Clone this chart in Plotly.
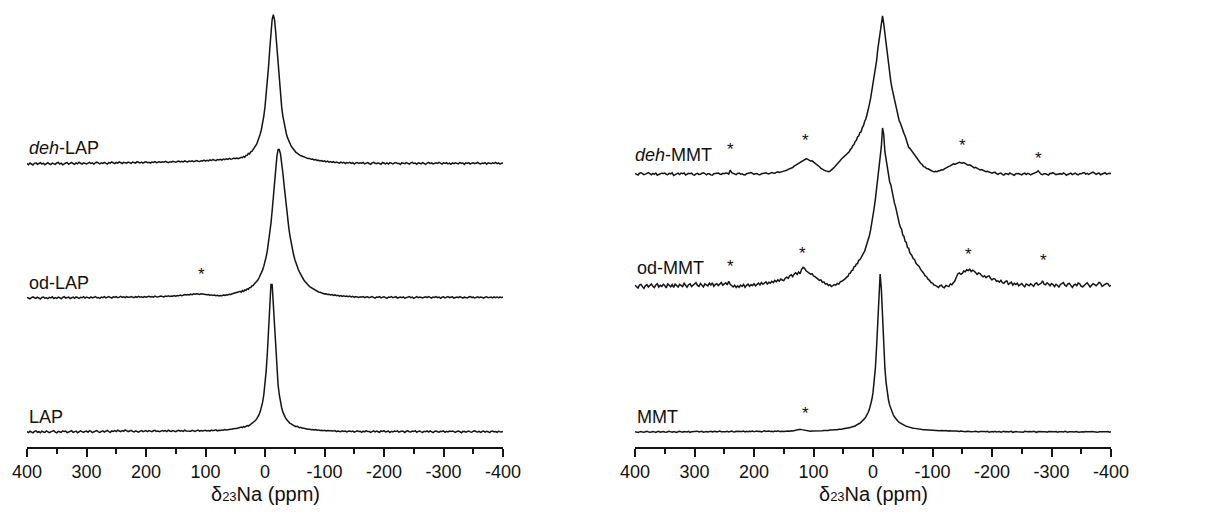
import plotly.graph_objects as go

# Chemical-shift sampling (ppm): 2.5 ppm steps in the wings, 2 ppm across the central line
PPM_LEFT = [400 - 2.5 * i for i in range(143)]      # 400 ... 45
PPM_CORE = list(range(42, -63, -2))                 # 42 ... -62
PPM_RIGHT = [-65 - 2.5 * i for i in range(135)]     # -65 ... -400
PPM = PPM_LEFT + PPM_CORE + PPM_RIGHT

# ---------------- Laponite series (intensity, main line = 100) ----------------
LAP_LEFT = [
    0.3, -0.4, 0.5, 0.1, -0.6, 0.4, 0.8, -0.2, 0.2, -0.5,
    0.6, 0.0, -0.3, 0.7, 0.3, -0.5, 0.1, 0.5, 0.9, -0.1,
    -0.6, 0.4, 0.2, -0.2, 0.8, 0.3, 0.6, -0.4, 0.0, 0.5,
    0.9, -0.3, 0.1, 0.6, -0.5, 0.3, 0.7, 0.2, -0.3, 0.4,
    0.6, -0.2, 0.9, 0.4, -0.4, 0.2, 0.5, 1.0, 0.1, -0.3,
    0.4, 0.8, 0.0, 0.6, 1.1, 0.3, -0.2, 0.7, 0.4, 0.9,
    0.3, 1.2, 0.6, 0.2, 1.0, 0.5, 1.4, 0.8, 0.3, 0.7,
    1.1, 0.4, 0.0, 0.8, 0.5, -0.1, 0.6, 0.9, 0.2, 0.5,
    0.9, 0.3, 1.0, 0.6, 0.2, 0.8, 1.1, 0.4, 0.7, 0.2,
    0.6, 1.0, 0.5, 0.9, 0.3, 1.2, 0.7, 0.4, 0.9, 0.6,
    0.2, 0.8, 1.1, 0.5, 0.9, 0.4, 1.2, 0.7, 0.6, 1.0,
    0.5, 1.1, 0.8, 0.4, 0.9, 1.3, 0.6, 1.0, 0.7, 0.9,
    1.2, 0.7, 1.0, 0.6, 1.3, 0.9, 1.1, 1.5, 0.8, 1.2,
    1.0, 1.4, 1.2, 1.6, 1.3, 1.5, 1.9, 1.6, 2.0, 2.1,
    2.4, 2.3, 2.7]
LAP_CORE = [
    2.8, 3.3, 2.9, 3.6, 3.2, 3.9, 4.3, 4.0, 4.6, 5.1, 5.4, 6.0, 6.8, 7.7, 8.8,
    10.1, 11.6, 13.7, 16.4, 20.0, 25.0, 31.7, 41.0, 53.4, 69.2, 86.2, 99.0,
    99.0, 86.2, 69.2, 53.4, 41.0, 31.7, 25.0, 20.0, 16.3, 13.5, 11.3, 9.8,
    8.6, 7.4, 6.7, 5.8, 5.4, 4.7, 4.5, 4.0, 3.6, 3.8, 3.2, 2.9, 3.1, 2.6]
LAP_RIGHT = [
    2.5, 2.1, 2.2, 1.8, 1.9, 1.5, 1.7, 1.3, 1.6, 1.2,
    1.4, 1.0, 1.2, 0.8, 1.1, 0.7, 1.0, 0.9, 0.5, 0.8,
    0.6, 0.9, 0.3, 0.7, 0.5, 0.2, 0.8, 0.4, 0.6, 0.0,
    0.5, 0.7, 0.2, 0.6, -0.1, 0.4, 0.8, 0.3, 0.5, -0.2,
    0.6, 0.1, 0.9, 0.3, 0.4, -0.3, 0.5, 0.7, 0.1, 0.6,
    0.2, -0.2, 0.7, 0.4, 0.9, 0.0, 0.3, 0.6, -0.4, 0.5,
    0.1, 0.6, 0.3, 0.8, -0.1, 0.2, 0.7, 0.4, -0.3, 0.5,
    0.8, 0.2, 0.0, 0.6, 0.3, 0.9, -0.2, 0.4, 0.6, 0.1,
    -0.3, 0.5, 0.2, 0.7, 0.0, 0.8, 0.3, -0.4, 0.4, 0.6,
    0.2, -0.1, 0.5, 0.3, 0.7, -0.2, 0.4, 0.1, 0.6, 0.3,
    0.7, 0.0, -0.3, 0.4, 0.6, 0.2, -0.5, 0.3, 0.5, -0.1,
    0.4, 0.6, 0.1, -0.2, 0.5, 0.8, 0.2, 0.0, 0.4, -0.3,
    0.3, 0.6, -0.1, 0.5, 0.2, -0.4, 0.4, 0.7, 0.1, 0.3,
    -0.2, 0.5, 0.2, 0.0, 0.4]

OD_LAP_LEFT = [
    0.4, -0.3, -0.6, 0.2, 0.7, 0.1, -0.3, 0.5, -0.1, -0.7,
    0.3, 0.6, -0.2, 0.1, -0.5, 0.4, 0.0, 0.7, -0.4, 0.2,
    -0.3, 0.5, 0.1, -0.6, 0.3, 0.8, -0.1, 0.2, 0.6, -0.4,
    0.0, 0.5, -0.2, 0.7, 0.3, -0.3, 0.4, 0.1, 0.8, -0.1,
    0.5, 0.2, -0.2, 0.6, 0.0, 0.4, 0.9, 0.1, 0.3, -0.3,
    0.6, 0.2, 0.8, 0.0, 0.5, 0.9, 0.3, -0.1, 0.7, 0.4,
    0.8, 0.1, 0.5, 1.0, 0.3, 0.7, 0.2, 0.9, 0.5, 0.4,
    0.9, 0.6, 0.2, 0.8, 0.4, 1.0, 0.5, 0.7, 0.3, 0.9,
    0.5, 0.8, 1.1, 0.6, 0.9, 0.5, 1.2, 0.8, 0.6, 1.0,
    1.3, 0.9, 0.7, 1.2, 1.0, 1.4, 0.9, 1.3, 1.1, 1.5,
    1.2, 1.6, 1.4, 1.9, 1.5, 1.8, 2.2, 1.9, 2.3, 2.0,
    2.5, 2.2, 2.7, 2.4, 2.8, 2.6, 2.3, 2.7, 2.5, 2.1,
    2.4, 2.1, 2.3, 1.8, 2.0, 1.6, 1.9, 1.5, 1.7, 1.3,
    1.6, 1.4, 1.9, 1.7, 2.1, 2.0, 2.5, 2.3, 2.8, 3.0,
    3.3, 3.6, 3.9]
OD_LAP_CORE = [
    4.4, 3.8, 4.9, 4.3, 5.3, 5.0, 6.1, 5.8, 6.9, 7.0, 8.0, 8.3, 9.3, 10.0, 11.2,
    12.0, 13.5, 15.0, 16.7, 18.8, 21.3, 24.2, 27.7, 31.9, 36.9, 42.9, 50.0,
    58.3, 67.6, 77.5, 87.1, 95.0, 99.6, 99.6, 96.6, 91.1, 84.0, 76.0, 67.9,
    60.2, 53.2, 47.0, 41.5, 36.7, 32.6, 29.1, 26.0, 23.3, 21.1, 19.0, 17.3,
    15.7, 14.4]
OD_LAP_RIGHT = [
    12.2, 10.9, 9.5, 8.7, 7.6, 7.0, 6.0, 5.6, 4.9, 4.6,
    4.0, 3.8, 3.3, 3.2, 2.7, 2.8, 2.3, 2.5, 2.0, 2.3,
    1.7, 2.0, 1.5, 1.8, 1.2, 1.6, 1.0, 1.4, 0.9, 1.3,
    0.8, 1.2, 0.6, 1.0, 0.4, 0.9, 0.7, 0.3, 0.8, 0.5,
    0.9, 0.2, 0.6, 0.8, 0.1, 0.5, 0.9, 0.3, -0.2, 0.6,
    0.4, 0.8, 0.0, 0.5, 0.7, 0.2, -0.3, 0.6, 0.4, 0.9,
    0.1, 0.5, 0.8, -0.1, 0.4, 0.6, 0.2, 0.7, -0.2, 0.3,
    0.6, 0.9, 0.2, 0.5, -0.3, 0.4, 0.8, 0.1, 0.6, 0.3,
    -0.1, 0.5, 0.7, 0.2, 0.9, 0.4, -0.2, 0.6, 0.3, 0.8,
    0.2, 0.6, -0.3, 0.4, 0.7, 0.0, 0.5, 0.9, 0.2, 0.4,
    0.7, -0.1, 0.3, 0.6, 0.2, 0.8, 0.4, -0.2, 0.5, 0.3,
    0.0, 0.6, 0.9, 0.3, 0.5, -0.1, 0.4, 0.7, 0.2, 0.6,
    0.3, -0.2, 0.5, 0.8, 0.1, 0.4, 0.6, 0.0, 0.7, 0.2,
    0.5, 0.1, 0.6, 0.3, 0.4]

DEH_LAP_LEFT = [
    0.2, -0.6, 0.5, -0.1, -0.8, 0.3, 0.6, -0.3, 0.1, 0.7,
    -0.2, 0.4, -0.6, 0.3, 0.8, -0.1, -0.5, 0.5, 0.2, -0.4,
    0.6, 0.9, -0.2, 0.4, -0.7, 0.1, 0.5, 0.8, -0.3, 0.3,
    0.9, 0.2, -0.4, 0.6, 0.0, 1.0, 0.4, -0.2, 0.7, 0.3,
    -0.1, 0.5, 0.9, 0.2, 0.6, -0.3, 0.8, 1.1, 0.4, 0.0,
    0.7, 0.3, 1.0, 0.5, -0.2, 0.8, 0.4, 1.2, 0.6, 0.1,
    0.9, 0.5, 1.3, 0.7, 0.2, 1.0, 0.6, 0.4, 1.1, 0.8,
    0.3, 1.2, 0.8, 0.5, 1.4, 0.9, 0.6, 1.1, 0.4, 1.0,
    1.3, 0.7, 1.0, 0.5, 1.2, 0.9, 1.5, 0.8, 1.1, 1.4,
    0.9, 1.3, 1.0, 1.6, 1.2, 0.8, 1.4, 1.1, 1.7, 1.3,
    1.0, 1.5, 1.8, 1.2, 1.6, 1.3, 1.9, 1.5, 1.2, 1.8,
    1.6, 2.0, 1.4, 1.8, 2.2, 1.7, 1.5, 2.1, 1.9, 2.4,
    1.8, 2.3, 2.0, 2.6, 2.2, 2.8, 2.4, 2.1, 2.9, 2.6,
    3.0, 2.5, 3.2, 2.8, 3.4, 2.9, 3.6, 3.1, 3.3, 3.8,
    3.4, 3.9, 3.5]
DEH_LAP_CORE = [
    3.9, 4.4, 4.1, 4.9, 4.4, 5.6, 5.7, 6.9, 6.6, 8.0, 8.3, 9.8, 10.4, 12.0,
    13.2, 15.4, 17.3, 20.0, 23.2, 27.2, 32.0, 38.2, 45.7, 54.8, 65.4, 77.0,
    88.3, 96.8, 100.0, 96.8, 88.3, 77.0, 65.4, 54.8, 45.7, 38.2, 32.0, 27.2,
    23.2, 20.0, 17.4, 15.2, 13.6, 11.8, 10.8, 9.5, 8.7, 7.7, 7.2, 6.4, 6.1,
    5.4, 5.2]
DEH_LAP_RIGHT = [
    4.7, 4.1, 4.0, 3.5, 3.6, 3.0, 3.2, 2.6, 2.8, 2.3,
    2.4, 1.9, 2.2, 1.6, 2.0, 1.3, 1.8, 1.1, 1.5, 1.0,
    1.4, 0.7, 1.2, 0.9, 0.4, 1.1, 0.6, 1.0, 0.2, 0.8,
    0.5, 1.0, 0.3, 0.8, -0.2, 0.6, 0.9, 0.2, 0.7, 0.4,
    0.9, -0.1, 0.5, 0.8, 0.2, -0.4, 0.6, 1.0, 0.3, 0.1,
    0.7, 0.4, -0.3, 0.9, 0.5, 0.0, 0.6, -0.2, 0.8, 0.3,
    -0.1, 0.6, 0.9, 0.2, 0.4, -0.5, 0.7, 0.3, 0.1, 0.8,
    0.4, -0.2, 0.6, 1.0, 0.2, 0.5, -0.3, 0.7, 0.4, 0.0,
    0.8, 0.3, -0.4, 0.5, 0.9, 0.1, 0.6, -0.1, 0.3, 0.7,
    0.2, 0.9, 0.4, -0.2, 0.6, 0.3, 0.8, 0.0, 0.5, -0.3,
    0.6, 0.1, 0.7, 0.4, -0.1, 0.9, 0.3, 0.5, -0.4, 0.6,
    0.3, 0.8, -0.2, 0.4, 0.7, 0.1, 0.5, 0.9, 0.2, -0.1,
    0.5, 0.2, 0.8, -0.3, 0.6, 0.4, 0.0, 0.7, 0.3, 0.9,
    0.1, 0.6, -0.2, 0.4, 0.5]

# ---------------- Montmorillonite series ----------------
MMT_LEFT = [
    0.2, -0.1, -0.3, 0.1, 0.3, 0.0, -0.2, 0.2, 0.4, 0.1,
    -0.2, 0.0, 0.3, 0.1, -0.3, 0.2, 0.4, -0.1, 0.1, 0.3,
    0.0, -0.2, 0.2, 0.4, 0.1, -0.1, 0.3, 0.0, -0.3, 0.2,
    0.4, 0.1, -0.1, 0.3, 0.2, 0.0, 0.4, -0.2, 0.1, 0.3,
    0.1, 0.3, 0.5, 0.0, 0.2, 0.4, -0.1, 0.2, 0.3, 0.0,
    0.3, 0.5, 0.1, 0.2, 0.4, 0.0, 0.3, 0.6, 0.2, 0.1,
    0.4, 0.2, 0.5, 0.1, 0.3, 0.6, 0.2, 0.0, 0.4, 0.3,
    0.5, 0.2, 0.3, 0.6, 0.1, 0.4, 0.2, 0.5, 0.3, 0.6,
    0.2, 0.4, 0.6, 0.3, 0.5, 0.1, 0.4, 0.7, 0.3, 0.5,
    0.6, 0.3, 0.5, 0.2, 0.6, 0.4, 0.7, 0.3, 0.5, 0.4,
    0.3, 0.6, 0.4, 0.7, 0.5, 0.8, 0.6, 0.9, 1.1, 1.2,
    1.4, 1.7, 1.5, 1.3, 1.0, 0.8, 0.6, 0.7, 0.5, 0.6,
    0.6, 0.8, 0.5, 0.7, 0.9, 0.6, 0.8, 1.0, 0.9, 1.1,
    1.0, 1.2, 1.1, 1.3, 1.4, 1.3, 1.5, 1.7, 1.6, 1.8,
    2.0, 2.1, 2.3]
MMT_CORE = [
    2.6, 2.8, 2.8, 3.2, 3.3, 3.7, 3.8, 4.4, 4.6, 5.2, 5.5, 6.2, 6.8, 7.6, 8.5,
    9.6, 10.9, 12.5, 14.5, 17.0, 20.4, 24.9, 31.2, 40.4, 53.6, 71.5, 90.7,
    100.0, 90.7, 71.5, 53.6, 40.4, 31.2, 24.9, 20.4, 17.0, 14.5, 12.5, 10.9,
    9.6, 8.5, 7.6, 6.8, 6.1, 5.6, 5.1, 4.7, 4.2, 3.9, 3.6, 3.4, 3.1, 2.9]
MMT_RIGHT = [
    2.7, 2.4, 2.3, 2.1, 1.9, 1.8, 1.8, 1.6, 1.5, 1.5,
    1.4, 1.3, 1.2, 1.3, 1.1, 1.0, 1.2, 0.9, 1.0, 0.8,
    0.9, 0.7, 0.8, 0.9, 0.6, 0.8, 0.5, 0.7, 0.6, 0.4,
    0.6, 0.5, 0.3, 0.6, 0.4, 0.5, 0.2, 0.4, 0.5, 0.3,
    0.1, 0.4, 0.3, 0.5, 0.2, 0.0, 0.3, 0.4, 0.1, 0.3,
    0.2, 0.4, -0.1, 0.2, 0.3, 0.1, 0.4, 0.0, 0.2, 0.3,
    -0.1, 0.2, 0.4, 0.1, 0.3, 0.0, 0.2, 0.4, -0.2, 0.1,
    0.3, 0.1, 0.0, 0.3, 0.2, -0.1, 0.4, 0.2, 0.1, 0.3,
    0.0, 0.2, 0.4, 0.1, -0.2, 0.3, 0.2, 0.0, 0.3, 0.1,
    0.2, -0.1, 0.3, 0.2, 0.4, 0.0, 0.1, 0.3, -0.1, 0.2,
    0.3, 0.1, 0.0, 0.4, 0.2, -0.2, 0.1, 0.3, 0.2, 0.0,
    0.2, 0.3, -0.1, 0.1, 0.4, 0.2, 0.0, 0.3, 0.1, -0.1,
    0.1, 0.3, 0.2, 0.0, 0.3, -0.2, 0.2, 0.1, 0.4, 0.0,
    0.2, 0.1, 0.3, -0.1, 0.2]

OD_MMT_LEFT = [
    0.5, -0.8, -1.3, 0.6, 1.0, -0.4, -1.5, 0.2, 0.9, -0.6,
    0.1, 1.3, -0.2, -1.0, 0.7, 1.5, -0.7, 0.4, -0.3, 1.1,
    0.3, -1.2, 1.4, 0.6, -0.5, 0.9, -0.9, 1.2, 0.0, -0.6,
    1.0, 0.2, -0.4, 1.7, 0.5, -0.8, 0.8, 1.4, -0.3, 0.6,
    1.2, 2.1, 0.4, -0.2, 1.6, 0.7, -0.6, 1.3, 0.9, 0.1,
    1.8, 0.6, 2.0, -0.2, 0.9, 1.5, 0.3, 1.1, 2.2, 0.5,
    1.4, 2.0, 0.7, 3.0, 1.1, 0.2, -0.6, 0.5, -1.0, 0.1,
    -0.8, 0.6, -0.3, 1.0, -0.9, 0.4, 1.2, -0.2, 0.8, 0.3,
    1.4, 0.1, 0.9, 1.8, 0.6, 2.2, 1.1, 1.7, 2.6, 1.3,
    2.4, 1.8, 3.0, 2.2, 3.5, 2.7, 3.9, 3.1, 4.4, 3.8,
    3.4, 4.9, 5.6, 4.8, 6.5, 7.1, 5.9, 7.6, 8.4, 7.3,
    8.9, 7.8, 10.6, 11.9, 11.2, 9.6, 9.0, 8.1, 7.5, 7.8,
    6.4, 5.9, 5.1, 4.4, 3.6, 3.9, 2.3, 2.6, 1.2, 1.5,
    0.3, 0.8, -0.3, 0.2, 0.9, 0.5, 1.6, 1.2, 2.6, 3.0,
    3.5, 4.3, 5.3]
OD_MMT_CORE = [
    6.2, 7.9, 8.2, 9.8, 10.0, 12.1, 12.4, 13.9, 14.2, 16.3, 16.6, 17.9, 19.0,
    20.8, 22.1, 24.3, 26.5, 29.2, 32.0, 35.5, 39.5, 44.0, 49.5, 55.0, 61.5,
    68.5, 75.0, 81.0, 88.0, 100.0, 96.0, 85.0, 79.5, 74.0, 70.5, 66.0, 64.0,
    59.5, 57.4, 52.6, 50.1, 45.9, 44.1, 39.8, 37.2, 36.1, 32.4, 31.5, 28.2,
    27.6, 24.3, 23.9, 20.9]
OD_MMT_RIGHT = [
    19.5, 17.4, 16.6, 14.2, 13.2, 12.4, 10.5, 9.6, 8.1, 6.5,
    5.9, 4.3, 3.6, 2.2, 1.8, 0.6, 0.4, -0.3, -0.9, 0.2,
    0.5, -0.7, -1.1, 0.4, 0.1, -0.4, 1.3, 0.8, 2.0, 3.1,
    5.5, 7.6, 8.3, 7.4, 8.0, 9.5, 9.0, 10.3, 9.8, 10.6,
    9.1, 10.0, 9.5, 8.2, 7.4, 8.3, 7.9, 6.6, 5.8, 6.5,
    5.3, 6.0, 6.4, 4.9, 3.8, 4.7, 4.4, 2.9, 3.3, 2.4,
    3.6, 2.1, 1.7, 2.9, 3.2, 1.0, 1.9, 2.5, 0.6, 1.7,
    0.9, 1.8, 0.1, 1.2, 1.6, 0.3, -0.5, 1.3, 0.7, 0.2,
    1.4, 0.8, -0.2, 1.5, 1.9, 0.6, 1.1, 1.7, 3.3, 1.2,
    0.7, 2.0, 1.3, 0.2, 1.5, 0.9, -0.4, 1.1, 0.3, -0.7,
    1.0, 1.9, 2.2, 0.5, -0.1, 1.3, 1.7, 0.4, -0.9, 0.6,
    1.1, 0.2, 1.9, 1.4, -0.2, -0.5, 0.8, 1.3, 2.0, 0.4,
    -0.6, 0.5, 1.4, 0.8, 0.2, 1.1, 2.3, 1.6, -0.3, 0.4,
    0.9, 1.7, 1.3, -0.1, 0.3]

DEH_MMT_LEFT = [
    0.3, -0.4, -0.7, 0.5, 0.8, 0.2, -0.4, -0.1, 0.6, 0.9,
    0.2, -0.5, 0.4, -0.2, 0.6, -0.8, -0.3, 0.1, 0.5, 0.3,
    0.6, -0.2, -0.5, 0.4, 0.1, 0.7, -1.0, -0.4, 0.3, 0.5,
    -0.3, 0.6, 0.2, 0.7, -0.6, -0.2, 0.4, 0.1, 0.5, -0.4,
    -0.7, 0.1, 0.4, -0.3, -0.2, 0.5, 0.8, 0.3, -0.5, 0.2,
    0.1, -0.6, -0.8, 0.2, 0.3, 0.7, 0.6, 0.0, -0.3, 0.4,
    0.2, 0.6, 0.5, -0.1, 2.4, 0.8, 0.3, -0.2, -0.4, 0.3,
    0.6, -0.1, 0.1, -0.5, -0.6, 0.2, 0.4, 0.8, 0.9, 0.4,
    -0.2, 0.2, 0.3, -0.4, -0.5, 0.1, 0.2, 0.6, 0.7, 0.3,
    0.0, 0.5, 0.9, 0.6, 0.5, 1.0, 1.3, 0.9, 1.0, 1.5,
    1.8, 2.0, 2.3, 2.9, 3.2, 3.5, 4.1, 4.9, 5.5, 6.0,
    6.8, 7.6, 8.0, 8.7, 9.0, 9.6, 9.4, 8.9, 8.2, 8.3,
    7.6, 6.6, 6.0, 5.6, 4.6, 3.6, 3.0, 2.6, 2.0, 1.8,
    1.5, 1.7, 2.3, 3.4, 4.3, 5.2, 6.4, 7.4, 8.5, 9.7,
    10.6, 11.7, 12.6]
DEH_MMT_CORE = [
    13.9, 14.1, 15.6, 16.2, 17.9, 18.6, 20.5, 21.3, 23.4, 24.1, 26.2, 26.7,
    29.3, 30.6, 33.4, 34.8, 37.8, 40.3, 44.2, 47.8, 52.2, 55.8, 60.7, 65.3,
    71.6, 78.8, 84.2, 88.9, 95.0, 100.0, 95.2, 88.8, 81.2, 73.8, 68.2, 62.8,
    58.3, 54.2, 50.8, 46.7, 43.8, 39.2, 36.3, 33.7, 32.3, 29.6, 28.2, 25.7,
    24.0, 21.2, 19.5, 16.8, 16.2]
DEH_MMT_RIGHT = [
    14.6, 12.8, 11.7, 10.1, 9.3, 8.2, 6.8, 6.0, 4.6, 4.4,
    3.5, 3.3, 2.5, 2.2, 1.8, 1.3, 1.7, 1.4, 2.0, 2.1,
    2.7, 2.5, 3.2, 3.9, 4.4, 4.8, 5.1, 5.9, 6.4, 6.1,
    6.7, 7.3, 7.4, 7.1, 6.8, 7.2, 6.9, 6.1, 5.5, 5.8,
    5.2, 4.6, 3.9, 4.2, 3.8, 3.0, 2.5, 2.8, 2.4, 1.9,
    1.4, 1.7, 1.3, 0.8, 0.5, 0.9, 1.0, 0.2, -0.3, 0.4,
    0.6, -0.2, -0.7, 0.3, 0.2, -0.4, 0.6, 0.1, -0.5, -0.8,
    0.1, 0.4, 0.3, -0.2, -0.6, 0.2, 0.5, -0.3, 0.4, 0.1,
    -0.6, 0.0, 0.3, 0.5, 1.1, 2.0, 0.6, -0.1, -0.4, 0.2,
    0.1, -0.5, -0.7, 0.4, 0.3, 0.9, 0.2, -0.4, -0.2, 0.2,
    0.2, -0.3, 0.6, 0.1, -0.8, -0.3, 0.3, 0.5, -0.4, 0.1,
    0.5, -0.2, -0.6, 0.3, 0.1, 0.6, 0.9, -0.1, 0.4, -0.3,
    0.4, 0.8, 1.2, 0.5, -0.2, 0.3, 0.6, -0.5, 0.1, 0.7,
    0.8, -0.1, 0.3, 0.5, 0.3]

TICK_VALS = [400, 300, 200, 100, 0, -100, -200, -300, -400]
TICK_TEXT = ["400", "300", "200", "100", "0", "-100", "-200", "-300", "-400"]

SPECTRA = {
    "LAP": (LAP_LEFT, LAP_CORE, LAP_RIGHT),
    "od-LAP": (OD_LAP_LEFT, OD_LAP_CORE, OD_LAP_RIGHT),
    "deh-LAP": (DEH_LAP_LEFT, DEH_LAP_CORE, DEH_LAP_RIGHT),
    "MMT": (MMT_LEFT, MMT_CORE, MMT_RIGHT),
    "od-MMT": (OD_MMT_LEFT, OD_MMT_CORE, OD_MMT_RIGHT),
    "deh-MMT": (DEH_MMT_LEFT, DEH_MMT_CORE, DEH_MMT_RIGHT),
}
for key, (a, b, c) in SPECTRA.items():
    assert (len(a), len(b), len(c)) == (len(PPM_LEFT), len(PPM_CORE), len(PPM_RIGHT)), key

# vertical stacking offsets (intensity units) for each panel
LEFT_STACK = [("LAP", 0.0), ("od-LAP", 90.0), ("deh-LAP", 180.0)]
RIGHT_STACK = [("MMT", 0.0), ("od-MMT", 92.4), ("deh-MMT", 163.3)]

W, H = 1221, 524
INK = "#141414"
FONT = "Liberation Sans, Arial, sans-serif"

fig = go.Figure()
for stack, xa, ya in ((LEFT_STACK, "x", "y"), (RIGHT_STACK, "x2", "y2")):
    for name, off in stack:
        a, b, c = SPECTRA[name]
        fig.add_trace(go.Scatter(x=PPM, y=[v + off for v in a + b + c], mode="lines",
                                 name=name, line=dict(color=INK, width=1.5),
                                 xaxis=xa, yaxis=ya, hoverinfo="skip", showlegend=False))


def shift_axis(domain, anchor):
    return dict(domain=domain, anchor=anchor, range=[400, -400], autorange=False,
                showline=True, linecolor=INK, linewidth=1.5,
                ticks="outside", ticklen=8, tickwidth=1.5, tickcolor=INK,
                tickmode="array", tickvals=TICK_VALS, ticktext=TICK_TEXT,
                minor=dict(tickmode="linear", tick0=50, dtick=100, ticks="outside",
                           ticklen=5, tickwidth=1.5, tickcolor=INK),
                showgrid=False, zeroline=False, automargin=False,
                tickfont=dict(family=FONT, size=18, color="#111"))


def hidden_axis(domain, rng, anchor):
    return dict(domain=domain, range=rng, anchor=anchor, visible=False,
                showgrid=False, zeroline=False, fixedrange=True, automargin=False)


fig.update_layout(
    width=W, height=H, autosize=False,
    margin=dict(l=0, r=0, t=0, b=0, pad=0, autoexpand=False),
    paper_bgcolor="white", plot_bgcolor="white", showlegend=False,
    xaxis=shift_axis([27 / W, 503 / W], "y"),
    yaxis=hidden_axis([77 / H, 1], [-10.07, 289.93], "x"),
    xaxis2=shift_axis([635 / W, 1111 / W], "y2"),
    yaxis2=hidden_axis([77 / H, 1], [-9.49, 273.4], "x2"),
    font=dict(family=FONT, color="#111"),
)

title = "δ<span style='font-size:13px'>23</span>Na (ppm)"
ann = []
for cx in (265, 873):
    ann.append(dict(text=title, x=cx / W, y=1 - 494 / H, xref="paper", yref="paper",
                    xanchor="center", yanchor="middle", showarrow=False,
                    font=dict(family=FONT, size=20, color="#111")))

labels = [("<i>deh</i>-LAP", 27, 148), ("od-LAP", 27, 283), ("LAP", 27, 417),
          ("<i>deh</i>-MMT", 633, 155), ("od-MMT", 635, 268), ("MMT", 635, 417)]
for txt, px, py in labels:
    ann.append(dict(text=txt, x=px / W, y=1 - py / H, xref="paper", yref="paper",
                    xanchor="left", yanchor="middle", showarrow=False,
                    font=dict(family=FONT, size=18, color="#111")))

# spinning-sideband markers: (ppm, intensity level, axis pair)
stars = [(107, 106.0, "x", "y"),
         (240, 179.1, "x2", "y2"), (114, 184.8, "x2", "y2"), (-150, 181.6, "x2", "y2"),
         (-278, 173.4, "x2", "y2"),
         (239, 104.5, "x2", "y2"), (118, 112.7, "x2", "y2"), (-160, 112.1, "x2", "y2"),
         (-286, 108.3, "x2", "y2"),
         (114, 11.5, "x2", "y2")]
for sx, sy, xr, yr in stars:
    ann.append(dict(text="*", x=sx, y=sy, xref=xr, yref=yr, xanchor="center",
                    yanchor="middle", showarrow=False,
                    font=dict(family=FONT, size=17, color="#111")))

fig.update_layout(annotations=ann)
fig.write_html("out.html")
